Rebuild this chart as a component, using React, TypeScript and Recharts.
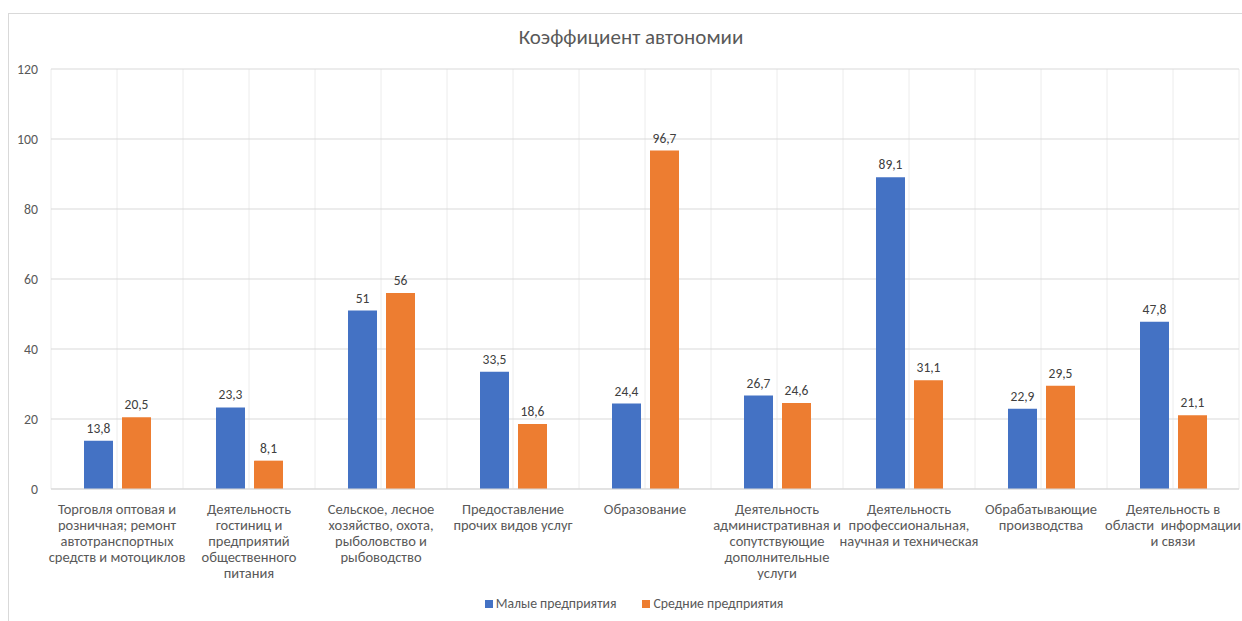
import { BarChart, Bar, XAxis, YAxis, CartesianGrid, Legend, LabelList } from 'recharts';

// Отрасли (переносы строк — как в подписях оси)
const categories = [
  'Торговля оптовая и\nрозничная; ремонт\nавтотранспортных\nсредств и мотоциклов',
  'Деятельность\nгостиниц и\nпредприятий\nобщественного\nпитания',
  'Сельское, лесное\nхозяйство, охота,\nрыболовство и\nрыбоводство',
  'Предоставление\nпрочих видов услуг',
  'Образование',
  'Деятельность\nадминистративная и\nсопутствующие\nдополнительные\nуслуги',
  'Деятельность\nпрофессиональная,\nнаучная и техническая',
  'Обрабатывающие\nпроизводства',
  'Деятельность в\nобласти  информации\nи связи',
];

const smallValues = [13.8, 23.3, 51, 33.5, 24.4, 26.7, 89.1, 22.9, 47.8];
const mediumValues = [20.5, 8.1, 56, 18.6, 96.7, 24.6, 31.1, 29.5, 21.1];

const yTicks = [0, 20, 40, 60, 80, 100, 120];

const seriesNames = { small: 'Малые предприятия', medium: 'Средние предприятия' };
const BLUE = '#4472C4';
const ORANGE = '#ED7D31';
const TEXT = '#595959';
const FONT = "Calibri, Carlito, 'Open Sans', sans-serif";

const data = categories.map((name, i) => ({
  name,
  small: smallValues[i],
  medium: mediumValues[i],
}));

const fmt = (v: any) => String(v).replace('.', ',');

// Многострочная подпись категории
function CategoryTick({ x, y, payload }: any) {
  const lines = String(payload.value).split('\n');
  return (
    <text x={x} y={y} textAnchor="middle" fill={TEXT} fontSize={14.5} fontFamily={FONT} style={{ whiteSpace: 'pre' }}>
      {lines.map((l, i) => (
        <tspan key={i} x={x} dy={i === 0 ? 17 : 16}>{l}</tspan>
      ))}
    </text>
  );
}

function LegendContent() {
  const item = (color: string, label: string) => (
    <span style={{ display: 'inline-flex', alignItems: 'center', gap: 3 }}>
      <span style={{ width: 8, height: 8, background: color, display: 'inline-block' }} />
      <span>{label}</span>
    </span>
  );
  return (
    <div style={{ display: 'flex', justifyContent: 'center', gap: 26, fontFamily: FONT, fontSize: 13.75, color: TEXT }}>
      {item(BLUE, seriesNames.small)}
      {item(ORANGE, seriesNames.medium)}
    </div>
  );
}

export default function App() {
  return (
    <div style={{ position: 'fixed', inset: 0, overflow: 'hidden', background: '#fff' }}>
      <div style={{
        position: 'absolute', left: 8, top: 13, width: 1260, height: 640,
        border: '1px solid #d9d9d9', boxSizing: 'border-box',
      }} />
      <div style={{
        position: 'absolute', left: 0, width: 1262, top: 24, textAlign: 'center',
        fontFamily: FONT, fontSize: 21, color: TEXT,
      }}>
        Коэффициент автономии
      </div>
      <div style={{ position: 'absolute', left: 9, top: 14 }}>
        <BarChart
          width={1233}
          height={607}
          data={data}
          margin={{ top: 55, right: 3, left: 0, bottom: 12 }}
          barSize={29}
          barGap={9}
        >
          <CartesianGrid
            stroke="#ececec"
            horizontal={false}
            verticalCoordinatesGenerator={({ offset }: any) =>
              Array.from({ length: 19 }, (_, i) => offset.left + (i * offset.width) / 18)}
          />
          <CartesianGrid stroke="#d9d9d9" vertical={false} />
          <XAxis
            dataKey="name"
            interval={0}
            height={120}
            tickLine={false}
            axisLine={{ stroke: '#d9d9d9' }}
            tick={<CategoryTick />}
          />
          <YAxis
            domain={[0, 120]}
            ticks={yTicks}
            width={42}
            tickLine={false}
            axisLine={false}
            tickMargin={7}
            tick={{ fill: TEXT, fontSize: 13.75, fontFamily: FONT }}
          />
          <Legend
            verticalAlign="middle"
            align="center"
            layout="horizontal"
            wrapperStyle={{ top: 581, left: 0, width: 1250 }}
            content={<LegendContent />}
          />
          <Bar dataKey="small" name={seriesNames.small} fill={BLUE} isAnimationActive={false}>
            <LabelList dataKey="small" position="top" offset={8} formatter={fmt}
              style={{ fill: '#404040', fontSize: 13.5, fontFamily: FONT }} />
          </Bar>
          <Bar dataKey="medium" name={seriesNames.medium} fill={ORANGE} isAnimationActive={false}>
            <LabelList dataKey="medium" position="top" offset={8} formatter={fmt}
              style={{ fill: '#404040', fontSize: 13.5, fontFamily: FONT }} />
          </Bar>
        </BarChart>
      </div>
    </div>
  );
}
